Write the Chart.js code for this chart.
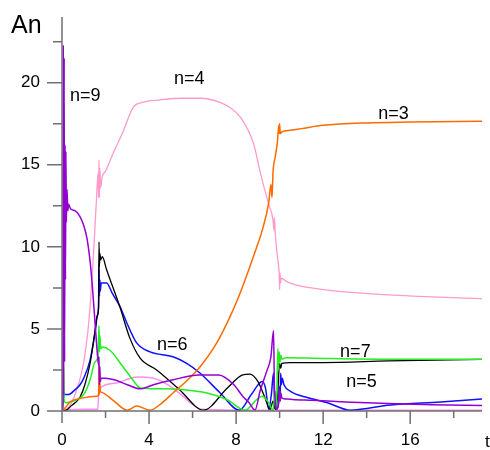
<!DOCTYPE html>
<html>
<head>
<meta charset="utf-8">
<script src="https://cdn.jsdelivr.net/npm/chart.js@4/dist/chart.umd.min.js"></script>
<style>
  html, body { margin: 0; padding: 0; background: #fff; }
  #wrap { width: 490px; height: 450px; }
</style>
</head>
<body>
<div id="wrap"><canvas id="an-chart"></canvas></div>
<script>
// time values (t) and amplitudes (An) per mode
const n9T = [0, 0.04, 0.06, 0.08, 0.1, 0.12, 0.14, 0.16, 0.18, 0.2, 0.23, 0.27, 0.3, 0.4, 0.6, 0.8, 1.0, 1.15, 1.3, 1.4, 1.5, 1.6, 1.68, 1.7, 1.72, 1.74, 1.76, 1.8, 2.0, 2.4, 3.0, 3.6, 4.2, 5.1, 6.3, 7.2, 7.9, 8.3, 8.6, 8.87, 9.1, 9.4, 9.6, 9.72, 9.76, 9.8, 9.86, 9.95, 10.0, 10.03, 10.06, 10.1, 10.2, 10.6, 11.5, 13.0, 15.0, 17.0, 19.3];
const n9Y = [0, 0.2, 22.3, 1.0, 21.5, 3.0, 16.2, 8.0, 15.8, 11.5, 13.5, 12.2, 12.6, 12.3, 12.2, 11.9, 11.3, 10.5, 9.0, 7.5, 5.7, 3.9, 2.8, 3.3, 1.6, 2.7, 1.8, 2.0, 2.0, 1.9, 1.6, 1.35, 1.6, 1.9, 2.2, 2.2, 1.6, 0.9, 0.5, 0.05, 1.2, 2.4, 3.3, 4.9, 1.5, 0.6, 0.1, 0.4, 1.3, 0.6, 1.1, 0.8, 0.75, 0.7, 0.65, 0.55, 0.45, 0.38, 0.33];

const n3T = [0, 0.15, 0.37, 0.97, 1.6, 1.68, 1.7, 1.72, 1.74, 1.76, 1.8, 2.35, 3.0, 3.43, 4.05, 4.6, 5.1, 5.7, 6.35, 7.0, 7.6, 8.1, 8.5, 8.9, 9.2, 9.5, 9.6, 9.65, 9.7, 9.8, 9.9, 9.96, 9.98, 10.0, 10.03, 10.1, 10.5, 11.0, 12.0, 14.0, 16.0, 19.3];
const n3Y = [0, 0.2, 0.55, 0.8, 0.9, 0.95, 2.8, 1.0, 1.8, 1.2, 1.15, 0.65, 0.05, 0.3, 0.05, 0.5, 1.1, 1.8, 2.7, 3.9, 5.4, 6.9, 8.3, 9.8, 11.0, 12.7, 13.8, 13.0, 14.6, 15.5, 16.4, 17.4, 16.9, 17.5, 16.9, 17.0, 17.1, 17.2, 17.4, 17.55, 17.6, 17.65];

const n7T = [0, 0.06, 0.1, 0.2, 0.37, 0.83, 1.05, 1.29, 1.52, 1.65, 1.7, 1.72, 1.74, 1.78, 1.85, 2.2, 2.8, 3.2, 3.6, 4.35, 5.57, 6.66, 7.57, 8.42, 8.95, 9.2, 9.5, 9.7, 9.8, 9.85, 9.92, 9.95, 9.98, 10.02, 10.06, 10.1, 10.3, 12.0, 15.0, 19.3];
const n7Y = [0, 3.1, 0.6, 0.5, 0.55, 0.8, 1.1, 1.9, 3.0, 3.3, 5.2, 3.6, 4.6, 3.8, 3.9, 3.7, 2.7, 2.0, 1.4, 1.35, 1.3, 1.1, 0.7, 0.05, 0.7, 0.9, 0.5, 0.05, 1.2, 0.1, 3.8, 2.5, 3.6, 3.0, 3.4, 3.15, 3.25, 3.2, 3.15, 3.15];

const n8T = [0, 0.2, 0.37, 0.6, 0.83, 1.05, 1.29, 1.52, 1.62, 1.68, 1.7, 1.72, 1.74, 1.78, 1.85, 2.05, 2.67, 3.1, 3.6, 4.35, 5.4, 6.5, 7.6, 8.3, 8.64, 9.0, 9.3, 9.56, 9.7, 9.8, 9.9, 10.0, 10.05, 10.1, 10.5, 12.0, 15.0, 19.3];
const n8Y = [0, 0.05, 0.25, 0.5, 0.85, 1.6, 2.9, 4.9, 5.8, 6.3, 10.3, 8.8, 9.6, 9.2, 9.4, 8.6, 6.3, 4.5, 3.2, 2.5, 1.3, 0.05, 1.4, 2.2, 2.25, 1.8, 0.9, 0.1, 0.6, 0.1, 0.8, 2.9, 2.6, 2.9, 2.95, 2.95, 3.05, 3.15];

const n6T = [0, 0.1, 0.3, 0.6, 0.83, 1.0, 1.29, 1.52, 1.62, 1.68, 1.7, 1.72, 1.74, 1.76, 1.8, 2.05, 2.3, 2.67, 3.0, 3.43, 4.05, 5.1, 5.73, 6.35, 7.27, 8.15, 8.7, 9.2, 9.35, 9.5, 9.62, 9.72, 9.78, 9.85, 9.95, 10.0, 10.02, 10.05, 10.08, 10.12, 10.2, 10.5, 11.2, 12.2, 13.25, 15.1, 17.4, 19.3];
const n6Y = [0, 1.0, 1.0, 1.3, 1.6, 2.0, 3.1, 4.8, 5.8, 6.4, 9.0, 7.0, 8.0, 7.3, 7.8, 7.8, 7.2, 6.35, 5.3, 4.15, 3.6, 3.3, 2.9, 2.3, 1.1, 0.05, 1.0, 1.8, 1.4, 0.1, 1.0, 2.3, 0.3, 0.1, 0.5, 1.5, 0.8, 2.3, 1.6, 2.0, 1.6, 1.2, 0.85, 0.5, 0.05, 0.37, 0.55, 0.73];

const n4T = [0, 0.2, 0.4, 0.6, 0.8, 1.0, 1.1, 1.2, 1.3, 1.4, 1.5, 1.6, 1.66, 1.68, 1.7, 1.72, 1.74, 1.77, 1.85, 2.0, 2.35, 2.8, 3.27, 3.7, 4.5, 5.5, 6.35, 7.26, 7.7, 8.2, 8.8, 9.1, 9.35, 9.5, 9.7, 9.74, 9.76, 9.8, 9.9, 9.98, 10.0, 10.02, 10.04, 10.08, 10.3, 11.0, 12.3, 14.6, 17.0, 19.3];
const n4Y = [0, 0.1, 0.4, 1.0, 1.8, 3.0, 3.9, 5.0, 6.5, 8.5, 10.8, 13.3, 14.5, 13.0, 15.3, 13.0, 14.8, 13.6, 14.3, 14.6, 15.7, 17.0, 18.5, 18.8, 18.95, 19.05, 19.05, 18.8, 18.5, 17.9, 16.3, 14.6, 13.3, 12.6, 11.6, 11.0, 11.8, 10.8, 9.4, 8.3, 7.4, 8.4, 7.8, 8.1, 7.9, 7.6, 7.35, 7.1, 6.95, 6.85];

const n5T = [0, 0.2, 1.0, 1.65, 1.7, 1.72, 1.8, 2.5, 3.43, 4.2, 5.1, 5.6, 6.0, 6.4, 8.0, 12.0, 19.3];
const n5Y = [0, 0.05, 0.1, 0.1, 1.6, 1.2, 1.45, 1.7, 2.07, 2.0, 1.4, 0.86, 0.4, 0.1, 0.05, 0.05, 0.05];

// mode labels written on the plot, anchored at [t, An] of their left/middle edge
const labelText = ["n=9", "n=4", "n=3", "n=6", "n=7", "n=5"];
const labelT = [0.37, 5.15, 14.53, 4.37, 12.78, 13.06];
const labelA = [19.2, 20.25, 18.08, 4.02, 3.6, 1.77];

const xTicks = [0, 4, 8, 12, 16];
const yTicks = [0, 5, 10, 15, 20];

function pts(ts, ys) {
  return ts.map((t, i) => ({ x: t, y: ys[i] }));
}

function line(label, ts, ys, color, width) {
  return {
    label: label,
    data: pts(ts, ys),
    borderColor: color,
    backgroundColor: color,
    borderWidth: width,
    pointRadius: 0,
    cubicInterpolationMode: "monotone",
    fill: false,
  };
}

const axisDecor = {
  id: "axisDecor",
  afterDraw(chart) {
    const { ctx, scales: { x, y } } = chart;
    const x0 = x.getPixelForValue(0);
    const y0 = y.getPixelForValue(0);
    ctx.save();
    ctx.strokeStyle = "#707070";
    ctx.lineWidth = 1.5;
    ctx.beginPath();
    ctx.moveTo(x0 - 15, y0);
    ctx.lineTo(x.right, y0);
    ctx.moveTo(x0, y.top);
    ctx.lineTo(x0, y0 + 12);
    for (let v = 2; v <= 18; v += 2) {
      const px = x.getPixelForValue(v);
      ctx.moveTo(px, y0);
      ctx.lineTo(px, y0 + (v % 4 === 0 ? 13 : 7));
    }
    for (let v = 2.5; v <= 22.5; v += 2.5) {
      const py = y.getPixelForValue(v);
      ctx.moveTo(x0, py);
      ctx.lineTo(x0 - (v % 5 === 0 ? 15 : 9), py);
    }
    ctx.stroke();

    ctx.fillStyle = "#000";
    ctx.textAlign = "left";
    ctx.textBaseline = "middle";
    ctx.font = '18px "Liberation Sans", Arial, sans-serif';
    labelText.forEach((txt, i) => {
      ctx.fillText(txt, x.getPixelForValue(labelT[i]), y.getPixelForValue(labelA[i]));
    });

    ctx.textBaseline = "alphabetic";
    ctx.font = '25px "Liberation Sans", Arial, sans-serif';
    ctx.fillText("An", 11, 33);
    ctx.font = '17px "Liberation Sans", Arial, sans-serif';
    ctx.fillText("t", 485, 447);
    ctx.restore();
  },
};

Chart.defaults.font.family = '"Liberation Sans", Arial, sans-serif';
Chart.defaults.color = "#000";

const ctx = document.getElementById("an-chart").getContext("2d");
const anChart = new Chart(ctx, {
  type: "line",
  data: {
    datasets: [
      line("n=9", n9T, n9Y, "#9400d3", 1.5),
      line("n=3", n3T, n3Y, "#ff6a00", 1.5),
      line("n=7", n7T, n7Y, "#22ee22", 1.5),
      line("n=8", n8T, n8Y, "#000000", 1.3),
      line("n=6", n6T, n6Y, "#1010ff", 1.5),
      line("n=4", n4T, n4Y, "#ff9acb", 1.3),
      line("n=5", n5T, n5Y, "#fa90f0", 1.5),
    ],
  },
  options: {
    responsive: true,
    maintainAspectRatio: false,
    animation: false,
    layout: {
      padding: { top: 17, right: 8, left: 0, bottom: 0 },
    },
    scales: {
      x: {
        type: "linear",
        bounds: "data",
        min: 0,
        max: 19.3,
        afterFit: (scale) => {
          scale.height = 39;
          scale.paddingLeft = 0;
          scale.paddingRight = 0;
        },
        afterBuildTicks: (scale) => { scale.ticks = xTicks.map((v) => ({ value: v })); },
        grid: { display: false, drawTicks: false },
        border: { display: false },
        ticks: {
          padding: 19,
          maxRotation: 0,
          autoSkip: false,
          font: { size: 17 },
          color: "#000",
        },
      },
      y: {
        type: "linear",
        bounds: "data",
        min: 0,
        max: 24,
        afterFit: (scale) => {
          scale.width = 62;
          scale.paddingTop = 0;
          scale.paddingBottom = 0;
        },
        afterBuildTicks: (scale) => { scale.ticks = yTicks.map((v) => ({ value: v })); },
        grid: { display: false, drawTicks: false },
        border: { display: false },
        ticks: {
          padding: 22,
          autoSkip: false,
          font: { size: 17 },
          color: "#000",
        },
      },
    },
    plugins: {
      legend: { display: false },
      tooltip: { enabled: false },
    },
  },
  plugins: [axisDecor],
});
</script>
</body>
</html>
